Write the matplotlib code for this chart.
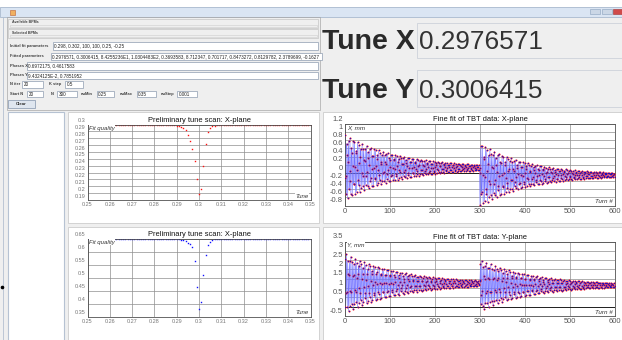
import matplotlib
matplotlib.use("Agg")
import matplotlib.pyplot as plt
import numpy as np
from matplotlib.patches import Rectangle
from matplotlib.transforms import ScaledTranslation

plt.rcParams['font.family'] = ['Liberation Sans', 'DejaVu Sans']

W, H = 622, 340

# preliminary tune scan, nuMin 0.25 .. nuMax 0.35, nuStep 0.001
nu_scan = np.round(np.linspace(0.25, 0.35, 101), 3)
fitq_x = ([0.2986] * 40 +
          [0.2980, 0.2975, 0.2965, 0.2950, 0.2921, 0.2847, 0.2754, 0.2641, 0.2464,
           0.2209, 0.1993, 0.2067, 0.2400, 0.2720, 0.2890, 0.2950, 0.2972, 0.2982] +
          [0.2986] * 43)
fitq_y = ([0.6480] * 40 +
          [0.6472, 0.6468, 0.6455, 0.6438, 0.6400, 0.6334, 0.6270, 0.6180, 0.5627,
           0.4635, 0.3800, 0.4056, 0.5110, 0.5880, 0.6243, 0.6370, 0.6430, 0.6465] +
          [0.6480] * 43)

# fine fit of TBT data, two BPMs of 300 turns each
tune_x = 0.2976571
tune_y = 0.3006415
phases_x = [0.6972175, 0.4617583]
phases_y = [0.094324125, 0.7851952]
amp_x = [0.80, 0.77]
amp_y = [1.60, 1.36]
offset_x = [0.13, -0.05]
offset_y = [1.25, 1.16]
decay_x = [120, 110]
decay_y = [125, 120]
n_turns = 300


def tbt(tune, phases, amps, offsets, decays):
    out = []
    n = np.arange(n_turns)
    for k in range(2):
        out.append(offsets[k] + amps[k] * np.exp(-n / decays[k]) *
                   np.cos(2 * np.pi * (tune * n + phases[k])))
    return np.concatenate(out)


turns = np.arange(2 * n_turns)
tbt_x = tbt(tune_x, phases_x, amp_x, offset_x, decay_x)
tbt_y = tbt(tune_y, phases_y, amp_y, offset_y, decay_y)

fig = plt.figure(figsize=(W / 100, H / 100), dpi=100, facecolor="#efefef")

# window / form drawn in pixel coordinates
gui = fig.add_axes([0, 0, 1, 1])
gui.set_xlim(0, W)
gui.set_ylim(H, 0)
gui.axis("off")


def rect(x0, y0, x1, y1, fc="none", ec="#c4c4c4", lw=0.5):
    r = Rectangle((x0, y0), x1 - x0, y1 - y0, fc=fc, ec=ec, lw=lw)
    gui.add_patch(r)
    return r


def label(x, y, s, size=2.9, bold=True):
    gui.text(x, y, s, fontsize=size, fontweight="bold" if bold else "normal",
             color="#404040", va="center", ha="left")


def field(x0, y0, x1, y1, s=""):
    r = rect(x0, y0, x1, y1, fc="white", ec="#8e9cb0")
    if s:
        t = gui.text(x0 + 1.5, (y0 + y1) / 2 + 0.2, s, fontsize=3.3, color="#202020",
                     va="center", ha="left")
        t.set_clip_path(r)


rect(0, 0, W, 6.5, fc="white", ec="none")
rect(0, 6.5, W, 17, fc="#dae5f3", ec="#9db0c8")
rect(9.5, 10, 15, 15, fc="#f0b060", ec="#c0602c", lw=0.4)
rect(590, 9.3, 600, 14, fc="#cbd7e6", ec="#8aa0bc", lw=0.4)
rect(601.5, 9.3, 611.5, 14, fc="#cbd7e6", ec="#8aa0bc", lw=0.4)
rect(613, 9.3, 623, 14, fc="#d04a4a", ec="#a03030", lw=0.4)
gui.plot([3, 3], [17, 340], color="#b4c0d0", lw=0.6)

# parameter form
rect(6.7, 17.3, 320, 110, ec="#a8a8a8")
rect(8.3, 19.3, 318.3, 28.3)
rect(10, 24.8, 316.5, 27.3, ec="#d4d4d4")
label(12.5, 22.4, "Available BPMs", 2.6)
rect(8.3, 29.3, 318.3, 38.3)
rect(10, 34.8, 316.5, 37.3, ec="#d4d4d4")
label(12.5, 32.6, "Selected BPMs", 2.6)

label(9.5, 45.5, "Initial fit parameters")
field(53, 41.5, 318, 49.5, "0.298, 0.302, 100, 100, 0.25, -0.25")
label(9.5, 56.4, "Fitted parameters")
field(50.5, 52.7, 322, 60.2, "0.2976571, 0.3006415, 8.4255236E1, 1.0304483E2, 0.3693583, "
      "8.712347, 0.701717, 0.8473272, 0.8129782, 2.3789699, -0.1627")
label(9.5, 65.8, "Phases X")
field(27, 62, 318, 69.5, "0.6972175, 0.4617583")
label(9.5, 75.2, "Phases Y")
field(27, 71.5, 318, 79, "9.4324125E-2, 0.7851952")
label(9.5, 84.4, "N iter")
field(22.3, 81, 43.3, 87.7, "20")
label(49.3, 84.4, "K step")
field(65, 81, 83.3, 87.7, "0.5")
label(9.5, 94, "Start N")
field(27.3, 90.7, 43.3, 97.3, "20")
label(50.5, 94, "N")
field(57.3, 90.7, 76.7, 97.3, "300")
label(81, 94, "nuMin")
field(96.7, 90.7, 114.3, 97.3, "0.25")
label(119.5, 94, "nuMax")
field(136.7, 90.7, 155.7, 97.3, "0.35")
label(160.5, 94, "nuStep")
field(177.3, 90.7, 196.7, 97.3, "0.001")
rect(8.3, 99.5, 35, 108.3, fc="#dfe6ef", ec="#8494ac")
gui.text(21.6, 104, "Clear", fontsize=3.2, fontweight="bold", color="#303030",
         ha="center", va="center")

# tune read-out
rect(416.7, 22.7, 623, 58.3, ec="#c6ccd6")
rect(416.7, 70, 623, 106.7, ec="#c6ccd6")
gui.text(321.5, 49.3, "Tune X", fontsize=20.5, fontweight="bold", color="#2a2a2a",
         ha="left", va="baseline")
gui.text(419.5, 49.3, f"{tune_x:.7f}", fontsize=18.8, color="#333333",
         ha="left", va="baseline")
gui.text(321.5, 98.3, "Tune Y", fontsize=20.5, fontweight="bold", color="#2a2a2a",
         ha="left", va="baseline")
gui.text(419.5, 98.3, f"{tune_y:.7f}", fontsize=18.8, color="#333333",
         ha="left", va="baseline")

# panels below
rect(8.3, 111.7, 64, 341, fc="white", ec="#b6c2d2", lw=0.8)
rect(67.5, 111.7, 318.5, 222.5, fc="white")
rect(67.5, 226.5, 318.5, 341, fc="white")
rect(323, 111.7, 623, 222.5, fc="white")
rect(323, 226.5, 623, 341, fc="white")
gui.plot([2], [287], "o", color="black", ms=1.6)


def box(l, t, r, b):
    return [l / W, 1 - b / H, (r - l) / W, (b - t) / H]


def style(ax, xticks, xlabels, yticks, ylabels, title, size, tcolor, xname, yname, namesize):
    ax.set_xlim(xticks[0], xticks[-1])
    ax.set_ylim(yticks[0], yticks[-1])
    ax.set_xticks(xticks)
    ax.set_xticklabels(xlabels)
    ax.set_yticks(yticks)
    ax.set_yticklabels(ylabels)
    ax.grid(True, color="#8e8e8e", lw=0.5)
    ax.set_axisbelow(True)
    ax.tick_params(length=0, labelsize=size, labelcolor=tcolor, pad=1.6)
    for s in ax.spines.values():
        s.set_color("#505050")
        s.set_linewidth(0.6)
    ax.set_title(title, fontsize=5.4, pad=1.8, color="#111111")
    off = ScaledTranslation(0, 1.0 / 72, fig.dpi_scale_trans)
    for lab in ax.get_yticklabels():
        lab.set_verticalalignment("bottom")
        lab.set_transform(lab.get_transform() + off)
    bb = dict(fc="white", ec="none", pad=0.3)
    ax.text(0.008, 0.985, yname, transform=ax.transAxes, fontsize=namesize, style="italic",
            color="#333333", ha="left", va="top", bbox=bb, zorder=5)
    ax.text(0.993, 0.015, xname, transform=ax.transAxes, fontsize=namesize, style="italic",
            color="#333333", ha="right", va="bottom", bbox=bb, zorder=5)


nu_ticks = np.round(np.arange(0.25, 0.3501, 0.01), 2)
nu_labels = [f"{v:g}" for v in nu_ticks]

ax1 = fig.add_axes(box(87.5, 124.5, 310.5, 200))
ax1.plot(nu_scan, fitq_x, "s", color="#ff1010", ms=1.0, mew=0)
yt1 = np.round(np.arange(0.19, 0.3001, 0.01), 2)
style(ax1, nu_ticks, nu_labels, yt1, [f"{v:g}" for v in yt1],
      "Preliminary tune scan: X-plane", 4.0, "#777777", "Tune", "Fit quality", 4.3)

ax2 = fig.add_axes(box(87.5, 238.5, 310.5, 316.5))
ax2.plot(nu_scan, fitq_y, "s", color="#1010ff", ms=1.0, mew=0)
yt2 = np.round(np.arange(0.35, 0.6501, 0.05), 2)
style(ax2, nu_ticks, nu_labels, yt2, [f"{v:g}" for v in yt2],
      "Preliminary tune scan: X-plane", 4.0, "#777777", "Tune", "Fit quality", 4.3)

turn_ticks = np.arange(0, 601, 100)
turn_labels = [str(v) for v in turn_ticks]

ax3 = fig.add_axes(box(345, 124, 615, 205.5))
ax3.axhline(0, color="#202020", lw=0.7, zorder=1.5)
ax3.plot(turns, tbt_x, color="#7070ff", lw=0.4, zorder=2)
ax3.plot(turns, tbt_x, "o", color="#ff2020", ms=1.5, mew=0, zorder=3)
ax3.plot(turns, tbt_x, "o", color="#1515c8", ms=0.9, mew=0, zorder=4)
yt3 = np.round(np.arange(-0.8, 1.2001, 0.2), 1)
style(ax3, turn_ticks, turn_labels, yt3, [f"{v + 0.0:g}" for v in yt3],
      "Fine fit of TBT data: X-plane", 5.4, "#555555", "Turn #", "X, mm", 4.5)

ax4 = fig.add_axes(box(345, 241.5, 615, 316))
ax4.axhline(0, color="#202020", lw=0.7, zorder=1.5)
ax4.plot(turns, tbt_y, color="#7070ff", lw=0.4, zorder=2)
ax4.plot(turns, tbt_y, "o", color="#ff2020", ms=1.5, mew=0, zorder=3)
ax4.plot(turns, tbt_y, "o", color="#1515c8", ms=0.9, mew=0, zorder=4)
yt4 = np.round(np.arange(-0.5, 3.5001, 0.5), 1)
style(ax4, turn_ticks, turn_labels, yt4, [f"{v + 0.0:g}" for v in yt4],
      "Fine fit of TBT data: Y-plane", 5.4, "#555555", "Turn #", "Y, mm", 4.5)

fig.savefig("out.png", dpi=100, facecolor=fig.get_facecolor())
